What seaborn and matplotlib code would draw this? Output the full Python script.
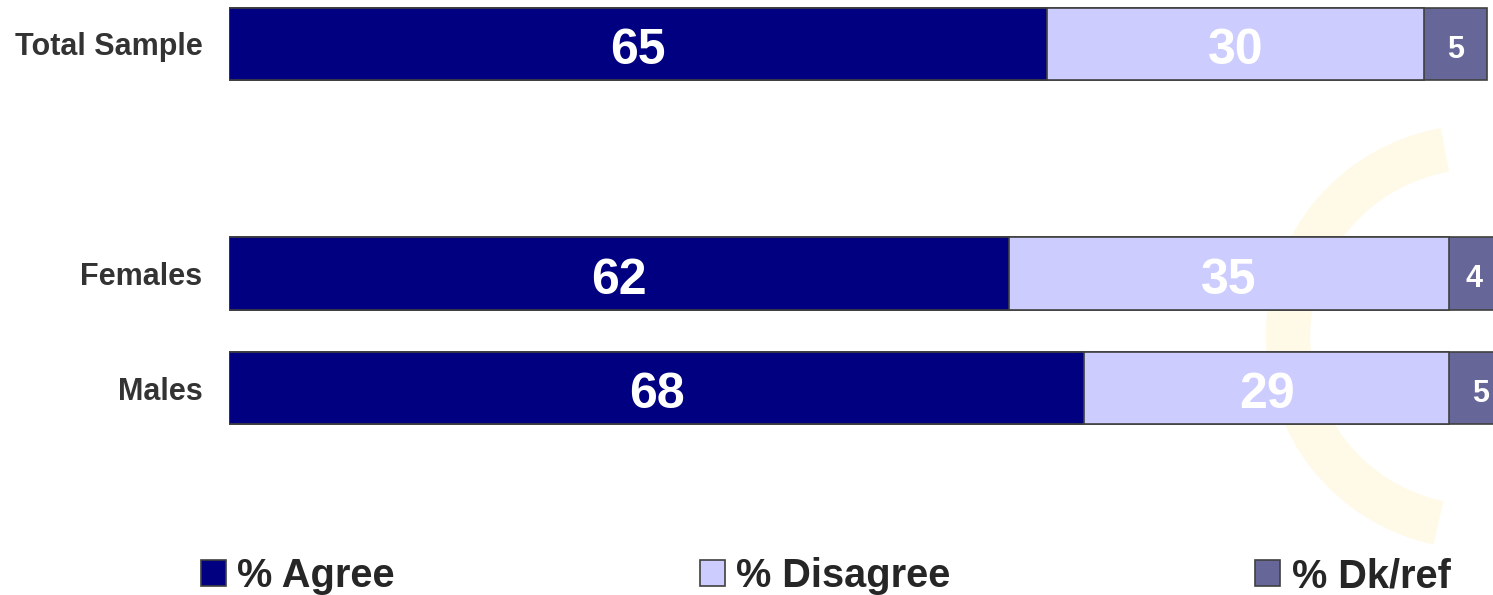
import matplotlib
matplotlib.use("Agg")
import matplotlib.pyplot as plt
from matplotlib.patches import Arc, Patch
import pandas as pd
import seaborn as sns

# data
groups = ["Total Sample", "Females", "Males"]
group_pos = [0, 2, 3]          # gap between total and the gender split
agree = [65, 62, 68]
disagree = [30, 35, 29]
dk_ref = [5, 4, 5]
series_names = ["% Agree", "% Disagree", "% Dk/ref"]
colors = ["#000080", "#CCCCFF", "#666699"]

sns.set_style("white")
plt.rcParams["font.family"] = ["Liberation Sans", "DejaVu Sans"]

df = pd.DataFrame({"group": groups, "pos": group_pos,
                   "agree": agree, "disagree": disagree, "dk": dk_ref})
df["end1"] = df["agree"]
df["end2"] = df["agree"] + df["disagree"]
df["end3"] = df["end2"] + df["dk"]

W, H = 1493, 595
fig = plt.figure(figsize=(W / 100, H / 100), dpi=100)

# faint decorative arc in the background
bg = fig.add_axes([0, 0, 1, 1], zorder=-1)
bg.set_xlim(0, W)
bg.set_ylim(0, H)
bg.axis("off")
bg.add_patch(Arc((1478, 258), 380, 380, theta1=100, theta2=258,
                 color="#FFF9E3", lw=32, alpha=0.8))

ax = fig.add_axes([229 / W, 1 - 440 / H, 1264 / W, 440 / H])
ax.patch.set_alpha(0)

edge = "#404040"
# stacked: draw cumulative totals back to front
for col, c in zip(["end3", "end2", "end1"], colors[::-1]):
  sns.barplot(data=df, x=col, y="pos", orient="h", native_scale=True,
              color=c, width=0.63, edgecolor=edge, linewidth=1.2,
              errorbar=None, saturation=1, ax=ax)

ax.set_xlim(0, 100.48)
ax.set_ylim(3.452, -0.383)
ax.set_yticks(group_pos)
ax.set_yticklabels(groups, fontsize=22, fontweight="bold", color="#333333",
                   va="center_baseline")
ax.tick_params(axis="y", length=0, pad=19)
ax.set_xticks([])
ax.set_xlabel("")
ax.set_ylabel("")
sns.despine(ax=ax, left=True, bottom=True)

# value labels centred in each segment
for _, row in df.iterrows():
  starts = [0, row["end1"], row["end2"]]
  vals = [row["agree"], row["disagree"], row["dk"]]
  for s, v in zip(starts, vals):
    fs = 36 if v >= 10 else 22
    ax.text(s + v / 2, row["pos"] + 0.02, f"{v}", ha="center",
            va="center_baseline", color="white", fontsize=fs,
            fontweight="bold")

handles = [Patch(facecolor=c, edgecolor=edge, linewidth=1.2, label=n)
           for c, n in zip(colors, series_names)]
fig.legend(handles=handles, ncol=3, loc="center left",
           bbox_to_anchor=(201 / W, 1 - 576 / H), frameon=False,
           prop={"size": 28.6, "weight": "bold"}, borderpad=0,
           handlelength=0.63, handleheight=0.63, handletextpad=0.28,
           columnspacing=7.68, borderaxespad=0)

fig.savefig("out.png", dpi=100)
